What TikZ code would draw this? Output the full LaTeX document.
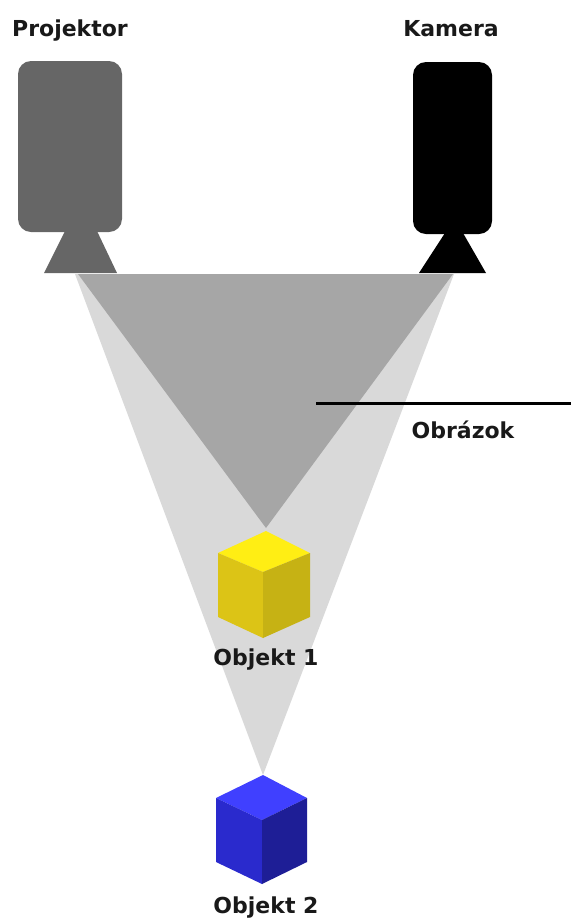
\documentclass[tikz,border=0pt]{standalone}
\usepackage{fontspec}
\setmainfont{DejaVu Sans}
\begin{document}
\begin{tikzpicture}[x=0.75pt,y=-0.75pt,
  lbl/.style={font=\bfseries\fontsize{16.5}{18}\selectfont, text=black!90, inner sep=0pt, anchor=base},
  lightbeam/.style={fill=black!15},
  darkbeam/.style={fill=black!35},
  housing/.style={rounded corners=13*0.75pt},
]
\definecolor{yTop}{RGB}{255,238,20}
\definecolor{yLeft}{RGB}{220,196,22}
\definecolor{yRight}{RGB}{198,178,20}
\definecolor{bTop}{RGB}{64,64,255}
\definecolor{bLeft}{RGB}{42,42,205}
\definecolor{bRight}{RGB}{30,30,150}
\useasboundingbox (0,0) rectangle (571,922);

% beams
\fill[lightbeam] (75,274) -- (454,274) -- (263,775) -- cycle;
\fill[darkbeam] (78,274) -- (453,274) -- (266,528) -- cycle;

% projector
\fill[black!60, housing] (18,61) rectangle (122,232);
\fill[black!60] (65,231) -- (97,231) -- (117,273) -- (44,273) -- cycle;
% camera
\fill[black, housing] (413,62) rectangle (492,234);
\fill[black] (445,233) -- (463,233) -- (486,273) -- (419,273) -- cycle;

% object 1
\fill[yTop] (266,531) -- (310,553) -- (263,572) -- (218,553) -- cycle;
\fill[yLeft] (218,553) -- (263,572) -- (263,638) -- (218,617) -- cycle;
\fill[yRight] (263,572) -- (310,553) -- (310,617) -- (263,638) -- cycle;
% object 2
\fill[bTop] (263,775) -- (307,798) -- (262,820) -- (216,798) -- cycle;
\fill[bLeft] (216,798) -- (262,820) -- (262,884) -- (216,862) -- cycle;
\fill[bRight] (262,820) -- (307,798) -- (307,862) -- (262,884) -- cycle;

% labels
\node[lbl] (proj) at (70,36) {Projektor};
\node[lbl] (kam) at (451,36) {Kamera};
\node[lbl] (obr) at (463,438) {Obrázok};
\node[lbl] (obj1) at (266,665) {Objekt 1};
\node[lbl] (obj2) at (266,913) {Objekt 2};

% pointer to the images
\coordinate (imgpt) at (316,403);
\coordinate (imgend) at (571,403);
\draw[line width=2.25pt] (imgpt) -- (imgend);
\end{tikzpicture}
\end{document}
